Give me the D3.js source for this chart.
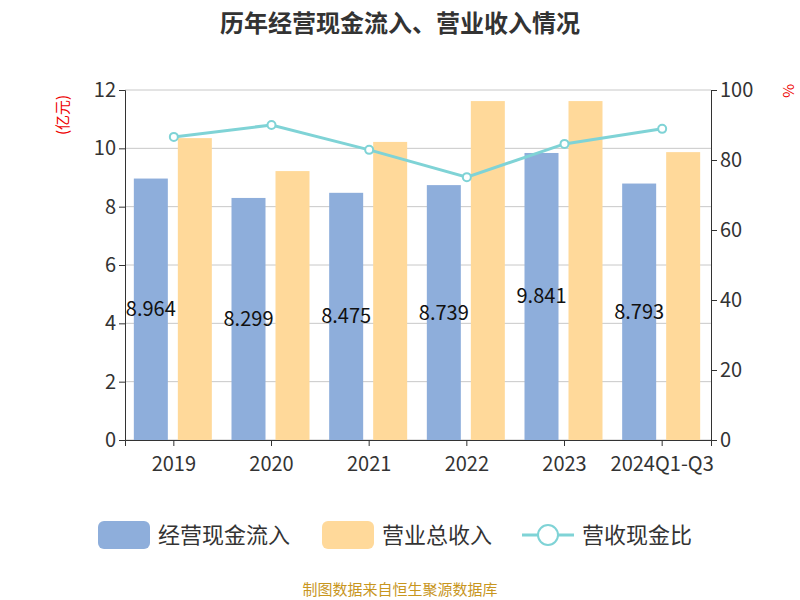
<!DOCTYPE html><html><head><meta charset="utf-8"><script src="https://cdn.jsdelivr.net/npm/d3@7"></script>
<style>body{margin:0}text{font-family:"Noto Sans CJK SC","Noto Sans",sans-serif}</style></head><body><svg id="c" width="800" height="600"></svg><script>
const categories=["2019","2020","2021","2022","2023","2024Q1-Q3"];
const cashIn=[8.964,8.299,8.475,8.739,9.841,8.793];
const revenue=[10.35,9.22,10.22,11.62,11.62,9.87];
const ratio=[86.6,90.0,82.9,75.1,84.6,88.9];
const leftTicks=[0,2,4,6,8,10,12];
const rightTicks=[0,20,40,60,80,100];
const svg=d3.select("#c");
const L=125,R=711,T=90,B=440;
const x=d3.scaleBand().domain(categories).range([L,R]);
const y=d3.scaleLinear().domain([0,12]).range([B,T]);
const y2=d3.scaleLinear().domain([0,100]).range([B,T]);
svg.append("text").attr("x",400).attr("y",32).attr("text-anchor","middle").attr("font-size",24).attr("font-weight","bold").attr("fill","#333").text("历年经营现金流入、营业收入情况");
svg.append("g").selectAll("line").data(leftTicks).join("line").attr("x1",L).attr("x2",R).attr("y1",d=>y(d)).attr("y2",d=>y(d)).attr("stroke","#c8c8c8");
const ga=svg.append("g").attr("transform",`translate(${L},0)`).call(d3.axisLeft(y).tickValues(leftTicks).tickSize(6));
const gr=svg.append("g").attr("transform",`translate(${R},0)`).call(d3.axisRight(y2).tickValues(rightTicks).tickSize(6));
const gb=svg.append("g").attr("transform",`translate(0,${B})`).call(d3.axisBottom(x).tickSize(6));
[ga,gr,gb].forEach(g=>{g.selectAll("text").attr("font-size",20).attr("fill","#333");g.selectAll("line,path").attr("stroke","#333");});
gb.selectAll("text").attr("dy","1.1em");
const bw=34;
svg.append("g").selectAll("rect").data(cashIn).join("rect").attr("x",(d,i)=>x(categories[i])+x.bandwidth()/2-bw-6).attr("width",bw).attr("y",d=>y(d)).attr("height",d=>B-y(d)).attr("fill","#8eaedb");
svg.append("g").selectAll("rect").data(revenue).join("rect").attr("x",(d,i)=>x(categories[i])+x.bandwidth()/2+4).attr("width",bw).attr("y",d=>y(d)).attr("height",d=>B-y(d)).attr("fill","#ffd99a");
svg.append("g").selectAll("text").data(cashIn).join("text").attr("x",(d,i)=>x(categories[i])+x.bandwidth()/2-23).attr("y",d=>y(d/2)+7).attr("text-anchor","middle").attr("font-size",20).attr("fill","#111").text(d=>d.toFixed(3));
const cx=(d,i)=>x(categories[i])+x.bandwidth()/2;
svg.append("path").datum(ratio).attr("d",d3.line().x(cx).y(d=>y2(d))).attr("fill","none").attr("stroke","#7fd3d6").attr("stroke-width",3);
svg.append("g").selectAll("circle").data(ratio).join("circle").attr("cx",cx).attr("cy",d=>y2(d)).attr("r",4).attr("fill","#fff").attr("stroke","#7fd3d6").attr("stroke-width",2);
svg.append("text").attr("transform","translate(68,115) rotate(-90)").attr("text-anchor","middle").attr("font-size",15).attr("fill","#e00").text("(亿元)");
svg.append("text").attr("transform","translate(783,91) rotate(90)").attr("text-anchor","middle").attr("font-size",15).attr("fill","#e00").text("%");
const lg=svg.append("g");
lg.append("rect").attr("x",98).attr("y",521).attr("width",52).attr("height",28).attr("rx",6).attr("fill","#8eaedb");
lg.append("text").attr("x",158).attr("y",543).attr("font-size",22).attr("fill","#333").text("经营现金流入");
lg.append("rect").attr("x",322).attr("y",521).attr("width",52).attr("height",28).attr("rx",6).attr("fill","#ffd99a");
lg.append("text").attr("x",382).attr("y",543).attr("font-size",22).attr("fill","#333").text("营业总收入");
lg.append("line").attr("x1",522).attr("x2",574).attr("y1",535).attr("y2",535).attr("stroke","#7fd3d6").attr("stroke-width",3);
lg.append("circle").attr("cx",548).attr("cy",535).attr("r",10).attr("fill","#fff").attr("stroke","#7fd3d6").attr("stroke-width",2);
lg.append("text").attr("x",582).attr("y",543).attr("font-size",22).attr("fill","#333").text("营收现金比");
svg.append("text").attr("x",400).attr("y",595).attr("text-anchor","middle").attr("font-size",15).attr("fill","#c8961e").text("制图数据来自恒生聚源数据库");
</script></body></html>
